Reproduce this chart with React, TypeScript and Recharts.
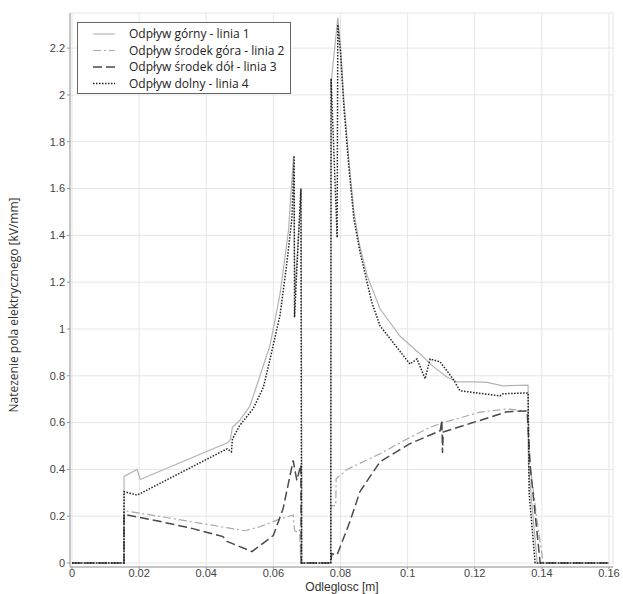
import React from 'react';
import { LineChart, Line, XAxis, YAxis, CartesianGrid, Legend } from 'recharts';

const FONT = '"Open Sans", "Liberation Sans", sans-serif';
const AXFONT = '"Liberation Sans", Arial, sans-serif';

const xTicks = [0, 0.02, 0.04, 0.06, 0.08, 0.1, 0.12, 0.14, 0.16];
const yTicks = [0, 0.2, 0.4, 0.6, 0.8, 1, 1.2, 1.4, 1.6, 1.8, 2, 2.2];

const seriesNames = [
  'Odpływ górny - linia 1',
  'Odpływ środek góra - linia 2',
  'Odpływ środek dół - linia 3',
  'Odpływ dolny - linia 4',
];

const line1X = [0, 0.0155, 0.0155, 0.0194, 0.0203, 0.0465, 0.0472, 0.0478, 0.05, 0.053, 0.056, 0.059, 0.062, 0.0645, 0.066, 0.0664, 0.0683, 0.0685, 0.0771, 0.0772, 0.0792, 0.08, 0.081, 0.0825, 0.084, 0.0855, 0.0879, 0.0918, 0.0977, 0.1028, 0.104, 0.1076, 0.1117, 0.1147, 0.1195, 0.1237, 0.1284, 0.1359, 0.136, 0.1386, 0.16];
const line1Y = [0, 0, 0.37, 0.4, 0.357, 0.515, 0.53, 0.58, 0.61, 0.67, 0.8, 0.93, 1.15, 1.42, 1.74, 1.15, 1.59, 0, 0, 2.05, 2.33, 2.21, 1.98, 1.72, 1.5, 1.37, 1.23, 1.085, 0.97, 0.905, 0.89, 0.84, 0.795, 0.774, 0.774, 0.772, 0.757, 0.76, 0.42, 0, 0];

const line2X = [0, 0.0155, 0.0155, 0.03, 0.0515, 0.056, 0.061, 0.0659, 0.0663, 0.0672, 0.0678, 0.0682, 0.0771, 0.0772, 0.0786, 0.0787, 0.082, 0.0918, 0.0998, 0.1067, 0.1105, 0.1147, 0.1216, 0.1296, 0.1359, 0.1365, 0.1386, 0.1404, 0.16];
const line2Y = [0, 0, 0.224, 0.19, 0.138, 0.155, 0.183, 0.205, 0.14, 0.13, 0.14, 0, 0, 0.245, 0.245, 0.36, 0.4, 0.467, 0.53, 0.58, 0.6, 0.616, 0.645, 0.658, 0.65, 0.415, 0.18, 0, 0];

const line3X = [0, 0.0155, 0.0155, 0.0264, 0.036, 0.045, 0.0462, 0.0536, 0.0581, 0.06, 0.0629, 0.0659, 0.067, 0.0682, 0.0683, 0.0771, 0.0774, 0.079, 0.0828, 0.0858, 0.0918, 0.1007, 0.1097, 0.1102, 0.1104, 0.1106, 0.1195, 0.1296, 0.1356, 0.1365, 0.1395, 0.16];
const line3Y = [0, 0, 0.208, 0.177, 0.147, 0.113, 0.092, 0.049, 0.097, 0.118, 0.232, 0.438, 0.353, 0.42, 0, 0, 0.04, 0.035, 0.177, 0.305, 0.433, 0.51, 0.565, 0.61, 0.47, 0.56, 0.6, 0.646, 0.65, 0.42, 0, 0];

const line4X = [0, 0.0155, 0.0155, 0.0194, 0.0462, 0.0475, 0.0478, 0.05, 0.054, 0.057, 0.059, 0.062, 0.064, 0.0655, 0.0662, 0.0663, 0.0682, 0.0684, 0.0771, 0.0772, 0.079, 0.0792, 0.08, 0.081, 0.0825, 0.084, 0.0858, 0.0893, 0.0918, 0.1007, 0.1028, 0.1052, 0.1067, 0.1097, 0.1135, 0.1156, 0.1275, 0.1284, 0.1359, 0.1362, 0.138, 0.16];
const line4Y = [0, 0, 0.305, 0.29, 0.488, 0.475, 0.53, 0.588, 0.66, 0.75, 0.87, 1.06, 1.28, 1.47, 1.74, 1.05, 1.6, 0, 0, 2.07, 1.39, 2.3, 2.18, 1.95, 1.69, 1.47, 1.33, 1.115, 1.013, 0.85, 0.872, 0.787, 0.872, 0.859, 0.787, 0.736, 0.714, 0.723, 0.727, 0.3, 0, 0];

const toPoints = (xs: number[], ys: number[]) => xs.map((x, i) => ({ x, y: ys[i] }));

const series = [
  { name: seriesNames[0], data: toPoints(line1X, line1Y), stroke: '#b4b4b4', dash: undefined as string | undefined, width: 1.2 },
  { name: seriesNames[1], data: toPoints(line2X, line2Y), stroke: '#a8a8a8', dash: '8 3 2 3', width: 1.2 },
  { name: seriesNames[2], data: toPoints(line3X, line3Y), stroke: '#4a4a4a', dash: '9 4', width: 1.5 },
  { name: seriesNames[3], data: toPoints(line4X, line4Y), stroke: '#222222', dash: '1.5 1.5', width: 1.5 },
];

function LegendBox() {
  const rowY = [11, 27.5, 44, 60.5];
  return (
    <div style={{ width: 214, height: 72, border: '1px solid #666', background: '#fff', boxSizing: 'border-box' }}>
      <svg width={212} height={70} style={{ display: 'block' }}>
        {series.map((s, i) => (
          <g key={s.name}>
            <line x1={15} x2={37} y1={rowY[i]} y2={rowY[i]} stroke={s.stroke} strokeWidth={s.width} strokeDasharray={s.dash} />
            <text x={51} y={rowY[i]} dy="0.35em" fontFamily={FONT} fontSize={12} fill="#222">{s.name}</text>
          </g>
        ))}
      </svg>
    </div>
  );
}

function YLabel(props: any) {
  const cx = 15;
  const cy = 305;
  return (
    <text x={cx} y={cy} transform={`rotate(-90 ${cx} ${cy})`} textAnchor="middle" dominantBaseline="middle" fontFamily={FONT} fontSize={12} fill="#333">
      Natezenie pola elektrycznego [kV/mm]
    </text>
  );
}

function XLabel(props: any) {
  return (
    <text x={342} y={591} textAnchor="middle" fontFamily={AXFONT} fontSize={12} fill="#333">
      Odleglosc [m]
    </text>
  );
}

const fmt = (v: number) => String(v);

export default function App() {
  return (
    <div style={{ position: 'absolute', left: 0, top: 0, width: 623, height: 594, background: '#fff' }}>
      <LineChart width={623} height={594} margin={{ top: 13, right: 10, bottom: 0, left: 0 }}>
        <CartesianGrid stroke="#e6e6e6" strokeWidth={1} />
        <XAxis
          type="number"
          dataKey="x"
          domain={[-0.0006, 0.1612]}
          ticks={xTicks}
          tickFormatter={fmt}
          height={27}
          tickSize={2}
          tickMargin={0}
          stroke="#999"
          tick={{ fill: '#444', fontFamily: AXFONT, fontSize: 11 }}
          label={<XLabel />}
          allowDataOverflow
        />
        <XAxis xAxisId="top" orientation="top" type="number" domain={[0, 1]} height={0} tick={false} tickLine={false} stroke="#999" />
        <YAxis
          type="number"
          domain={[-0.017, 2.35]}
          ticks={yTicks}
          tickFormatter={fmt}
          width={70}
          tickSize={3}
          tickMargin={2}
          stroke="#999"
          tick={{ fill: '#444', fontFamily: AXFONT, fontSize: 11 }}
          label={<YLabel />}
          allowDataOverflow
        />
        <YAxis yAxisId="right" orientation="right" type="number" domain={[0, 1]} width={0} tick={false} tickLine={false} stroke="#999" />
        <Legend
          layout="horizontal"
          verticalAlign="middle"
          align="center"
          wrapperStyle={{ left: 77, top: 22, width: 214, height: 72 }}
          content={() => <LegendBox />}
        />
        {series.map((s) => (
          <Line
            key={s.name}
            name={s.name}
            data={s.data}
            dataKey="y"
            type="linear"
            dot={false}
            activeDot={false}
            stroke={s.stroke}
            strokeWidth={s.width}
            strokeDasharray={s.dash}
            isAnimationActive={false}
          />
        ))}
      </LineChart>
    </div>
  );
}
